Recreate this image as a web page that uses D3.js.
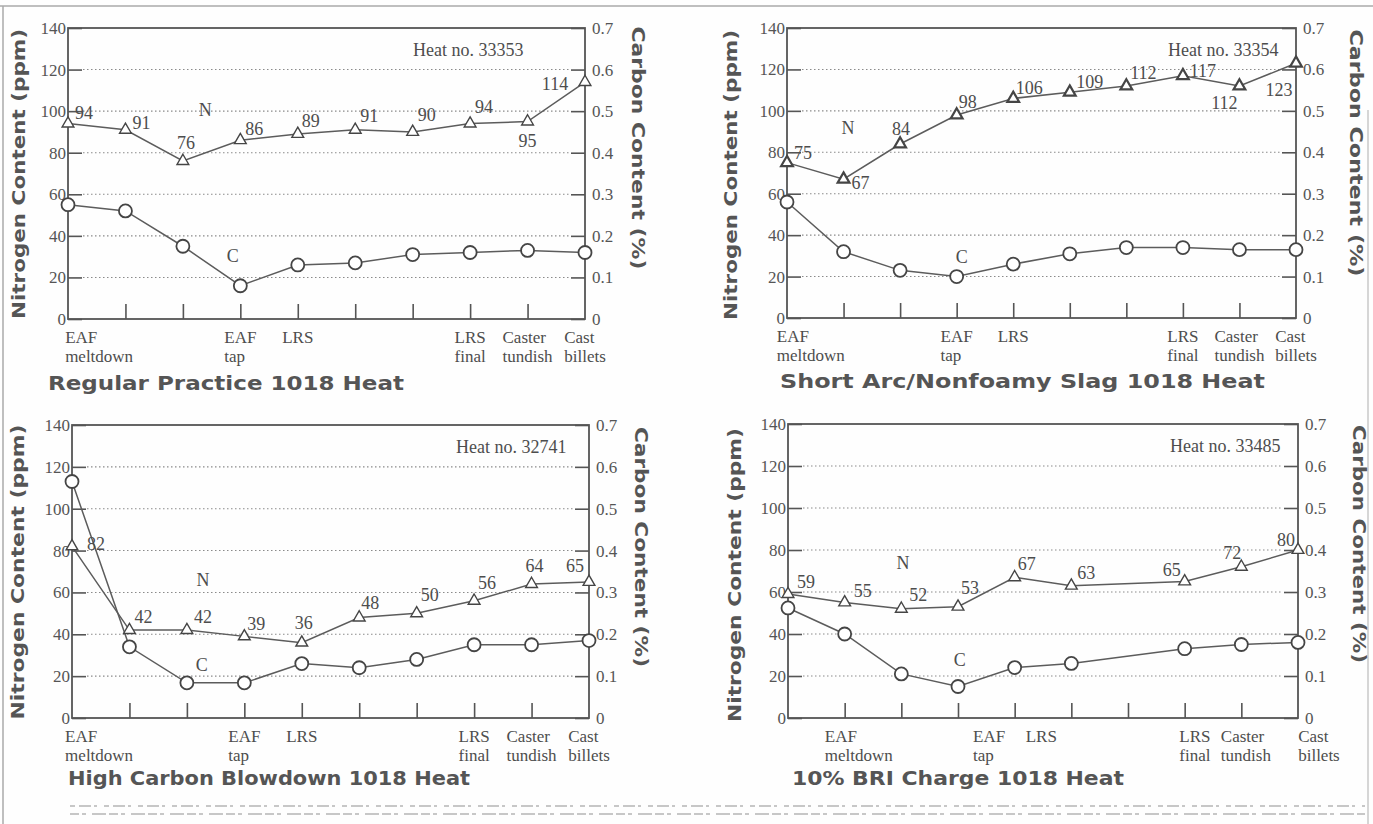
<!DOCTYPE html>
<html><head><meta charset="utf-8">
<script src="https://cdn.jsdelivr.net/npm/d3@7"></script>
<style>body{margin:0;background:#fff;} svg{display:block}</style>
</head><body>
<svg id="c" width="1373" height="824"></svg>
<script>
// ---------- DATA ----------
const stageLabels = [["EAF","meltdown"],["EAF","tap"],["LRS"],["LRS","final"],["Caster","tundish"],["Cast","billets"]];
const nTicks = [0,20,40,60,80,100,120,140];
const cTicks = [0,0.1,0.2,0.3,0.4,0.5,0.6,0.7];
const gridTicks = [20,40,60,80,100,120];
const innerStages = [1,2,3,4,5,6,7,8];

const titles = ["Regular Practice 1018 Heat","Short Arc/Nonfoamy Slag 1018 Heat","High Carbon Blowdown 1018 Heat","10% BRI Charge 1018 Heat"];
const heatNos = ["33353","33354","32741","33485"];

const stages33353 = [0,1,2,3,4,5,6,7,8,9];
const n33353 = [94,91,76,86,89,91,90,94,95,114];
const c33353 = [0.275,0.26,0.175,0.08,0.13,0.135,0.155,0.16,0.165,0.16];

const stages33354 = [0,1,2,3,4,5,6,7,8,9];
const n33354 = [75,67,84,98,106,109,112,117,112,123];
const c33354 = [0.28,0.16,0.115,0.10,0.13,0.155,0.17,0.17,0.165,0.165];

const stages32741 = [0,1,2,3,4,5,6,7,8,9];
const n32741 = [82,42,42,39,36,48,50,56,64,65];
const c32741 = [0.565,0.17,0.084,0.084,0.13,0.12,0.14,0.175,0.175,0.185];

const stages33485 = [0,1,2,3,4,5,7,8,9];
const n33485 = [59,55,52,53,67,63,65,72,80];
const c33485 = [0.262,0.20,0.105,0.075,0.12,0.13,0.165,0.175,0.18];

// ---------- LAYOUT ----------
const layouts = [
  {x0:68,x1:585,y0:28,y1:319, lab:[-0.05,3,4,7,8,9], firstStart:true,
   heatX:413, title:[48,404,383], lt:[18,174,290], rt:[638,148,243],
   nOff:[[16,-11],[16,-7],[3,-18],[14,-11],[13,-13],[14,-14],[14,-17],[14,-17],[0,19],[-30,2]],
   ann:[["N",2.39,100.5],["C",2.87,30.3]], triW:1.4},
  {x0:787,x1:1296,y0:28,y1:318, lab:[-0.18,3,4,7,8,9], firstStart:true,
   heatX:1168, title:[780,1265,381], lt:[730,175,290], rt:[1356,153,247],
   nOff:[[16,-10],[17,4],[1,-15],[11,-13],[16,-10],[20,-10],[17,-13],[20,-5],[-15,17],[-17,27]],
   ann:[["N",1.08,91.7],["C",3.09,29.5]], triW:2.2},
  {x0:72,x1:589,y0:425,y1:718, lab:[-0.12,3,4,7,8,9], firstStart:true,
   heatX:456, title:[68,470,778], lt:[17,572,295], rt:[641,547,240],
   nOff:[[24,-2],[14,-13],[16,-13],[12,-12],[2,-20],[11,-15],[13,-18],[13,-18],[3,-18],[-14,-16]],
   ann:[["N",2.28,66],["C",2.26,25.3]], triW:1.4},
  {x0:788,x1:1298,y0:424,y1:718, lab:[1.25,3.55,4.47,7.18,8.08,9.37], firstStart:false,
   heatX:1170, title:[792,1124,778], lt:[734,575,294], rt:[1359,544,238],
   nOff:[[18,-12],[18,-12],[17,-14],[12,-19],[12,-13],[15,-13],[-13,-12],[-9,-14],[-12,-10]],
   ann:[["N",2.03,73.8],["C",3.03,27.6]], triW:1.4}
];
const series = [
  {st:stages33353,n:n33353,c:c33353},
  {st:stages33354,n:n33354,c:c33354},
  {st:stages32741,n:n32741,c:c32741},
  {st:stages33485,n:n33485,c:c33485}
];

const SERIF = "'Liberation Serif','Times New Roman',serif";
const SANS = "'DejaVu Sans',Verdana,sans-serif";
const TXT = "#4d4d4d", LINE = "#555";

const svg = d3.select("#c");
svg.append("rect").attr("width",1373).attr("height",824).attr("fill","#fefefe");

// scan border decorations
svg.append("line").attr("x1",0).attr("x2",1373).attr("y1",6).attr("y2",6).attr("stroke","#aaa").attr("stroke-width",1.5);
svg.append("line").attr("x1",3).attr("x2",3).attr("y1",6).attr("y2",824).attr("stroke","#aaa").attr("stroke-width",1.5);
svg.append("line").attr("x1",1368).attr("x2",1368).attr("y1",110).attr("y2",824).attr("stroke","#bbb").attr("stroke-width",1.2);
[806,814].forEach((yy,i)=>svg.append("line").attr("x1",70).attr("x2",1365).attr("y1",yy).attr("y2",yy)
  .attr("stroke","#b5b5b5").attr("stroke-width",1.4).attr("stroke-dasharray", i? "9,3,4,6,14,3":"5,4,12,3,3,7"));

layouts.forEach((L,pi)=>{
  const S = series[pi];
  const g = svg.append("g");
  const x = d3.scaleLinear().domain([0,9]).range([L.x0,L.x1]);
  const yN = d3.scaleLinear().domain([0,140]).range([L.y1,L.y0]);
  const yC = d3.scaleLinear().domain([0,0.7]).range([L.y1,L.y0]);

  // grid
  g.selectAll(".grid").data(gridTicks).enter().append("line")
    .attr("x1",L.x0+15).attr("x2",L.x1-15).attr("y1",d=>yN(d)).attr("y2",d=>yN(d))
    .attr("stroke","#8a8a8a").attr("stroke-width",1.1).attr("stroke-dasharray","1.5,2.5");

  // axes
  const ax = g.append("g").attr("transform",`translate(${L.x0},0)`)
    .call(d3.axisLeft(yN).tickValues(nTicks).tickSize(-14).tickSizeOuter(0).tickPadding(2).tickFormat(d3.format("d")));
  const axr = g.append("g").attr("transform",`translate(${L.x1},0)`)
    .call(d3.axisRight(yC).tickValues(cTicks).tickSize(-14).tickSizeOuter(0).tickPadding(7).tickFormat(d=>d===0?"0":d3.format(".1f")(d)));
  const axb = g.append("g").attr("transform",`translate(0,${L.y1})`)
    .call(d3.axisBottom(x).tickValues(innerStages).tickSize(-15).tickSizeOuter(0).tickFormat(""));
  [ax,axr,axb].forEach(a=>{
    a.select(".domain").remove();
    a.selectAll("line").attr("stroke",LINE).attr("stroke-width",1.6);
    a.selectAll("text").attr("fill","#555").style("font-family",SERIF).style("font-size","17px");
  });

  // frame
  g.append("rect").attr("x",L.x0).attr("y",L.y0).attr("width",L.x1-L.x0).attr("height",L.y1-L.y0)
    .attr("fill","none").attr("stroke",LINE).attr("stroke-width",1.8);

  // lines
  const cPts = S.st.map((s,i)=>[s,S.c[i]]);
  const nPts = S.st.map((s,i)=>[s,S.n[i]]);
  g.append("path").datum(cPts).attr("fill","none").attr("stroke","#5c5c5c").attr("stroke-width",1.5)
    .attr("d",d3.line().x(d=>x(d[0])).y(d=>yC(d[1])));
  g.append("path").datum(nPts).attr("fill","none").attr("stroke","#5c5c5c").attr("stroke-width",1.5)
    .attr("d",d3.line().x(d=>x(d[0])).y(d=>yN(d[1])));

  // markers
  g.selectAll(".cm").data(cPts).enter().append("circle")
    .attr("cx",d=>x(d[0])).attr("cy",d=>yC(d[1])).attr("r",6.5)
    .attr("fill","#fff").attr("stroke","#454545").attr("stroke-width",1.8);
  g.selectAll(".nm").data(nPts).enter().append("path")
    .attr("d",d3.symbol().type(d3.symbolTriangle).size(60))
    .attr("transform",d=>`translate(${x(d[0])},${yN(d[1])})`)
    .attr("fill","#fff").attr("stroke","#454545").attr("stroke-width",L.triW);

  // value labels
  g.selectAll(".vl").data(nPts).enter().append("text")
    .attr("x",(d,i)=>x(d[0])+L.nOff[i][0]).attr("y",(d,i)=>yN(d[1])+L.nOff[i][1])
    .attr("text-anchor","middle").attr("dominant-baseline","central")
    .attr("fill",TXT).style("font-family",SERIF).style("font-size","18px").text(d=>d[1]);

  // N / C annotations
  L.ann.forEach(a=>{
    g.append("text").attr("x",x(a[1])).attr("y",yN(a[2])).attr("text-anchor","middle")
      .attr("dominant-baseline","central").attr("fill",TXT)
      .style("font-family",SERIF).style("font-size","18px").text(a[0]);
  });

  // heat no.
  g.append("text").attr("x",L.heatX).attr("y",L.y0+22).attr("dominant-baseline","central")
    .attr("fill",TXT).style("font-family",SERIF).style("font-size","18px").text("Heat no. "+heatNos[pi]);

  // category labels
  stageLabels.forEach((lines,k)=>{
    const lg = g.append("g");
    lines.forEach((t,j)=>{
      lg.append("text").attr("x",0).attr("y",L.y1+24+j*19).attr("fill",TXT)
        .style("font-family",SERIF).style("font-size","17px").text(t);
    });
    let w = 0; lg.selectAll("text").each(function(){w=Math.max(w,this.getComputedTextLength());});
    const cx = x(L.lab[k]);
    const left = (k===0 && L.firstStart) ? cx : cx - w/2;
    lg.attr("transform",`translate(${left},0)`);
  });

  // panel title
  g.append("text").attr("x",L.title[0]).attr("y",L.title[2]).attr("dominant-baseline","central")
    .attr("textLength",L.title[1]-L.title[0]).attr("lengthAdjust","spacingAndGlyphs")
    .attr("fill","#555").style("font-family",SANS).style("font-weight","bold").style("font-size","20px")
    .text(titles[pi]);

  // axis titles
  g.append("text").attr("transform",`translate(${L.lt[0]},${L.lt[1]}) rotate(-90)`)
    .attr("text-anchor","middle").attr("dominant-baseline","central")
    .attr("textLength",L.lt[2]).attr("lengthAdjust","spacingAndGlyphs")
    .attr("fill","#555").style("font-family",SANS).style("font-weight","bold").style("font-size","18px")
    .text("Nitrogen Content (ppm)");
  g.append("text").attr("transform",`translate(${L.rt[0]},${L.rt[1]}) rotate(90)`)
    .attr("text-anchor","middle").attr("dominant-baseline","central")
    .attr("textLength",L.rt[2]).attr("lengthAdjust","spacingAndGlyphs")
    .attr("fill","#555").style("font-family",SANS).style("font-weight","bold").style("font-size","18px")
    .text("Carbon Content (%)");
});
</script>
</body></html>
